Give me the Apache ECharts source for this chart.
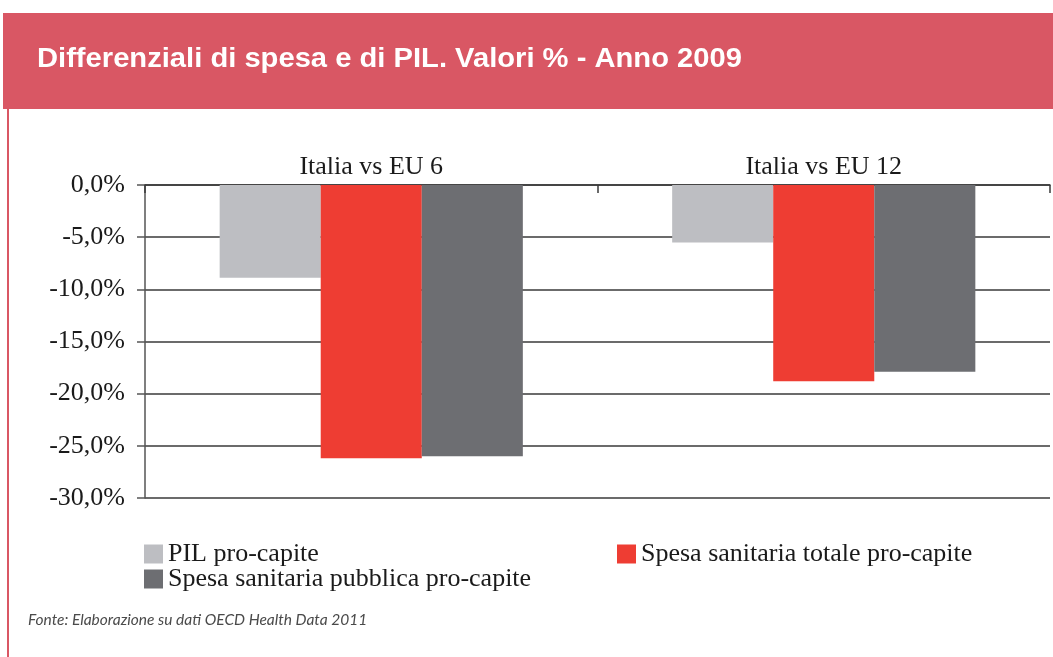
<!DOCTYPE html>
<html>
<head>
<meta charset="utf-8">
<script src="https://cdn.jsdelivr.net/npm/echarts@6/dist/echarts.min.js"></script>
<style>
html,body{margin:0;padding:0;background:#fff;}
#chart{width:1053px;height:657px;}
</style>
</head>
<body>
<div id="chart"></div>
<script>
const categories = ['Italia vs EU 6', 'Italia vs EU 12'];
const pilProCapite = [-8.9, -5.5];
const spesaTotale = [-26.2, -18.8];
const spesaPubblica = [-26.0, -17.9];
const seriesNames = ['PIL pro-capite', 'Spesa sanitaria totale pro-capite', 'Spesa sanitaria pubblica pro-capite'];
const yMin = -30, yMax = 0, yStep = 5;
const titleText = 'Differenziali di spesa e di PIL. Valori % - Anno 2009';
const sourceText = 'Fonte: Elaborazione su dati OECD Health Data 2011';

const colors = ['#BDBEC2', '#EE3D33', '#6D6E72'];
const serif = "'Liberation Serif', 'Times New Roman', serif";
const legendText = { fontFamily: serif, fontSize: 26, color: '#1a1a1a' };

const chart = echarts.init(document.getElementById('chart'));
chart.setOption({
  backgroundColor: '#ffffff',
  animation: false,
  color: colors,
  graphic: [
    { type: 'rect', left: 3, top: 13, shape: { width: 1050, height: 96 }, style: { fill: '#D95764' }, z: 0 },
    { type: 'rect', left: 7, top: 109, shape: { width: 2, height: 548 }, style: { fill: '#D95764' }, z: 0 },
    { type: 'text', x: 37, y: 60, scaleX: 1.08, z: 1,
      style: { text: titleText, fill: '#ffffff', font: "bold 27px 'Liberation Sans', Arial, sans-serif", textVerticalAlign: 'middle' } },
    { type: 'text', x: 28, y: 620, z: 1,
      style: { text: sourceText, fill: '#4a4a4a', font: "italic 15.5px Lato, 'Open Sans', sans-serif", textVerticalAlign: 'middle' } }
  ],
  legend: [
    { data: [seriesNames[0]], left: 144, top: 541, padding: 0, itemWidth: 19, itemHeight: 19, itemGap: 0, icon: 'rect', textStyle: legendText },
    { data: [seriesNames[1]], left: 617, top: 541, padding: 0, itemWidth: 19, itemHeight: 19, itemGap: 0, icon: 'rect', textStyle: legendText },
    { data: [seriesNames[2]], left: 144, top: 566, padding: 0, itemWidth: 19, itemHeight: 19, itemGap: 0, icon: 'rect', textStyle: legendText }
  ],
  grid: { left: 145, right: 3, top: 185, bottom: 159, containLabel: false },
  xAxis: {
    type: 'category',
    data: categories,
    position: 'top',
    axisLine: { show: true, onZero: false, lineStyle: { color: '#3a3a3a', width: 1.5 } },
    axisTick: { show: true, inside: true, length: 8, lineStyle: { color: '#3a3a3a', width: 1.5 } },
    axisLabel: { fontFamily: serif, fontSize: 26, color: '#1a1a1a', margin: 5 },
    splitLine: { show: false }
  },
  yAxis: {
    type: 'value',
    min: yMin, max: yMax, interval: yStep,
    axisLine: { show: true, lineStyle: { color: '#555', width: 1.5 } },
    axisTick: { show: true, length: 8, lineStyle: { color: '#555', width: 1.5 } },
    axisLabel: {
      fontFamily: serif, fontSize: 26, color: '#1a1a1a', margin: 20,
      formatter: v => v.toFixed(1).replace('.', ',') + '%'
    },
    splitLine: { show: true, lineStyle: { color: '#3a3a3a', width: 1.5 } }
  },
  series: [
    { name: seriesNames[0], type: 'bar', data: pilProCapite, barGap: '0%', barCategoryGap: '33%' },
    { name: seriesNames[1], type: 'bar', data: spesaTotale, barGap: '0%', barCategoryGap: '33%' },
    { name: seriesNames[2], type: 'bar', data: spesaPubblica, barGap: '0%', barCategoryGap: '33%' }
  ]
});
</script>
</body>
</html>
